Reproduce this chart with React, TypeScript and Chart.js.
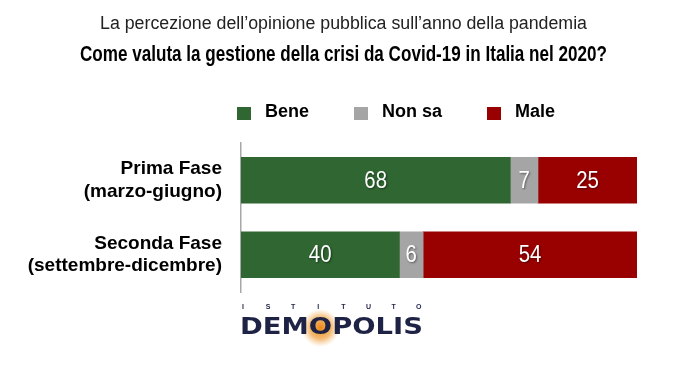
import React, { useEffect, useRef } from "react";
import { Chart, registerables } from "chart.js";

Chart.register(...registerables);

const subtitleText = "La percezione dell\u2019opinione pubblica sull\u2019anno della pandemia";
const titleText = "Come valuta la gestione della crisi da Covid-19 in Italia nel 2020?";
const categories: string[][] = [
  ["Prima Fase", "(marzo-giugno)"],
  ["Seconda Fase", "(settembre-dicembre)"],
];
const seriesNames = ["Bene", "Non sa", "Male"];
const beneValues = [68, 40];
const nonSaValues = [7, 6];
const maleValues = [25, 54];
const seriesColors = ["#2f6631", "#a5a5a5", "#990000"];

const SANS = "'Liberation Sans', Arial, Helvetica, sans-serif";

function fitText(ctx: CanvasRenderingContext2D, text: string, x: number, y: number, width: number) {
  const w = ctx.measureText(text).width;
  const s = width / w;
  ctx.save();
  ctx.translate(x, y);
  ctx.scale(s, 1);
  ctx.textAlign = "left";
  ctx.fillText(text, 0, 0);
  ctx.restore();
}

const decorPlugin = {
  id: "decor",
  afterDraw(chart: any) {
    const ctx = chart.ctx as CanvasRenderingContext2D;
    ctx.save();
    ctx.textBaseline = "middle";
    // subtitle & title
    ctx.fillStyle = "#222";
    ctx.font = `18px ${SANS}`;
    fitText(ctx, subtitleText, 100, 24, 487);
    ctx.fillStyle = "#000";
    ctx.font = `bold 22px ${SANS}`;
    fitText(ctx, titleText, 80, 55, 527);

    // legend
    const legendX = [237, 354, 487];
    ctx.textAlign = "left";
    ctx.font = `bold 18px ${SANS}`;
    seriesNames.forEach((name, i) => {
      ctx.fillStyle = seriesColors[i];
      ctx.fillRect(legendX[i], 107, 14, 13);
      ctx.fillStyle = "#000";
      ctx.fillText(name, legendX[i] + 28, 112);
    });

    // value labels
    ctx.font = `24px ${SANS}`;
    chart.data.datasets.forEach((ds: any, di: number) => {
      const meta = chart.getDatasetMeta(di);
      meta.data.forEach((bar: any, j: number) => {
        const cx = (bar.x + bar.base) / 2;
        ctx.save();
        ctx.translate(cx, bar.y + 1);
        ctx.scale(0.85, 1);
        ctx.textAlign = "center";
        ctx.shadowColor = "rgba(0,0,0,0.45)";
        ctx.shadowOffsetX = 1;
        ctx.shadowOffsetY = 1;
        ctx.shadowBlur = 2;
        ctx.fillStyle = "#fff";
        ctx.fillText(String(ds.data[j]), 0, 0);
        ctx.restore();
      });
    });

    // logo
    const logoX = 240, logoW = 183, logoY = 328;
    ctx.font = `bold 25px 'DejaVu Sans', ${SANS}`;
    const full = ctx.measureText("DEMOPOLIS").width;
    const sx = logoW / full;
    const before = ctx.measureText("DEM").width * sx;
    const oW = ctx.measureText("O").width * sx;
    const gx = logoX + before + oW / 2, gy = logoY;
    const grad = ctx.createRadialGradient(gx, gy, 1, gx, gy, 19);
    grad.addColorStop(0, "rgba(235,140,30,1)");
    grad.addColorStop(0.55, "rgba(240,165,70,0.75)");
    grad.addColorStop(1, "rgba(245,190,120,0)");
    ctx.fillStyle = grad;
    ctx.beginPath();
    ctx.arc(gx, gy, 19, 0, Math.PI * 2);
    ctx.fill();

    ctx.fillStyle = "#1e2245";
    ctx.save();
    ctx.translate(logoX, logoY);
    ctx.scale(sx, 0.9);
    ctx.textAlign = "left";
    ctx.fillText("DEMOPOLIS", 0, 0);
    ctx.restore();

    ctx.font = `bold 7px ${SANS}`;
    ctx.textAlign = "center";
    "ISTITUTO".split("").forEach((l, i) => {
      ctx.fillText(l, 243 + i * 25.1, 307);
    });
    ctx.restore();
  },
};

export default function App() {
  const ref = useRef<HTMLCanvasElement>(null);
  useEffect(() => {
    if (!ref.current) return;
    const chart = new Chart(ref.current, {
      type: "bar",
      data: {
        labels: categories,
        datasets: [
          { label: seriesNames[0], data: beneValues, backgroundColor: seriesColors[0] },
          { label: seriesNames[1], data: nonSaValues, backgroundColor: seriesColors[1] },
          { label: seriesNames[2], data: maleValues, backgroundColor: seriesColors[2] },
        ],
      },
      options: {
        indexAxis: "y",
        animation: false,
        responsive: false,
        layout: { padding: { left: 0, right: 38, top: 143, bottom: 73 } },
        datasets: { bar: { barThickness: 46, borderWidth: 0 } },
        plugins: {
          legend: { display: false },
          title: { display: false },
          tooltip: { enabled: false },
        },
        scales: {
          x: { stacked: true, min: 0, max: 100, display: false },
          y: {
            stacked: true,
            grid: { display: false, drawTicks: false },
            border: { display: true, color: "#a8a8a8", width: 1.5 },
            ticks: {
              padding: 19,
              color: "#000",
              font: { family: SANS, size: 19, weight: "bold", lineHeight: 1.16 },
            },
            afterFit(scale: any) {
              scale.width = 241;
            },
          },
        },
      } as any,
      plugins: [decorPlugin],
    });
    return () => chart.destroy();
  }, []);
  return (
    <div style={{ position: "fixed", left: 0, top: 0, width: 675, height: 365, background: "#fff" }}>
      <canvas ref={ref} width={675} height={365} style={{ width: 675, height: 365 }} />
    </div>
  );
}
